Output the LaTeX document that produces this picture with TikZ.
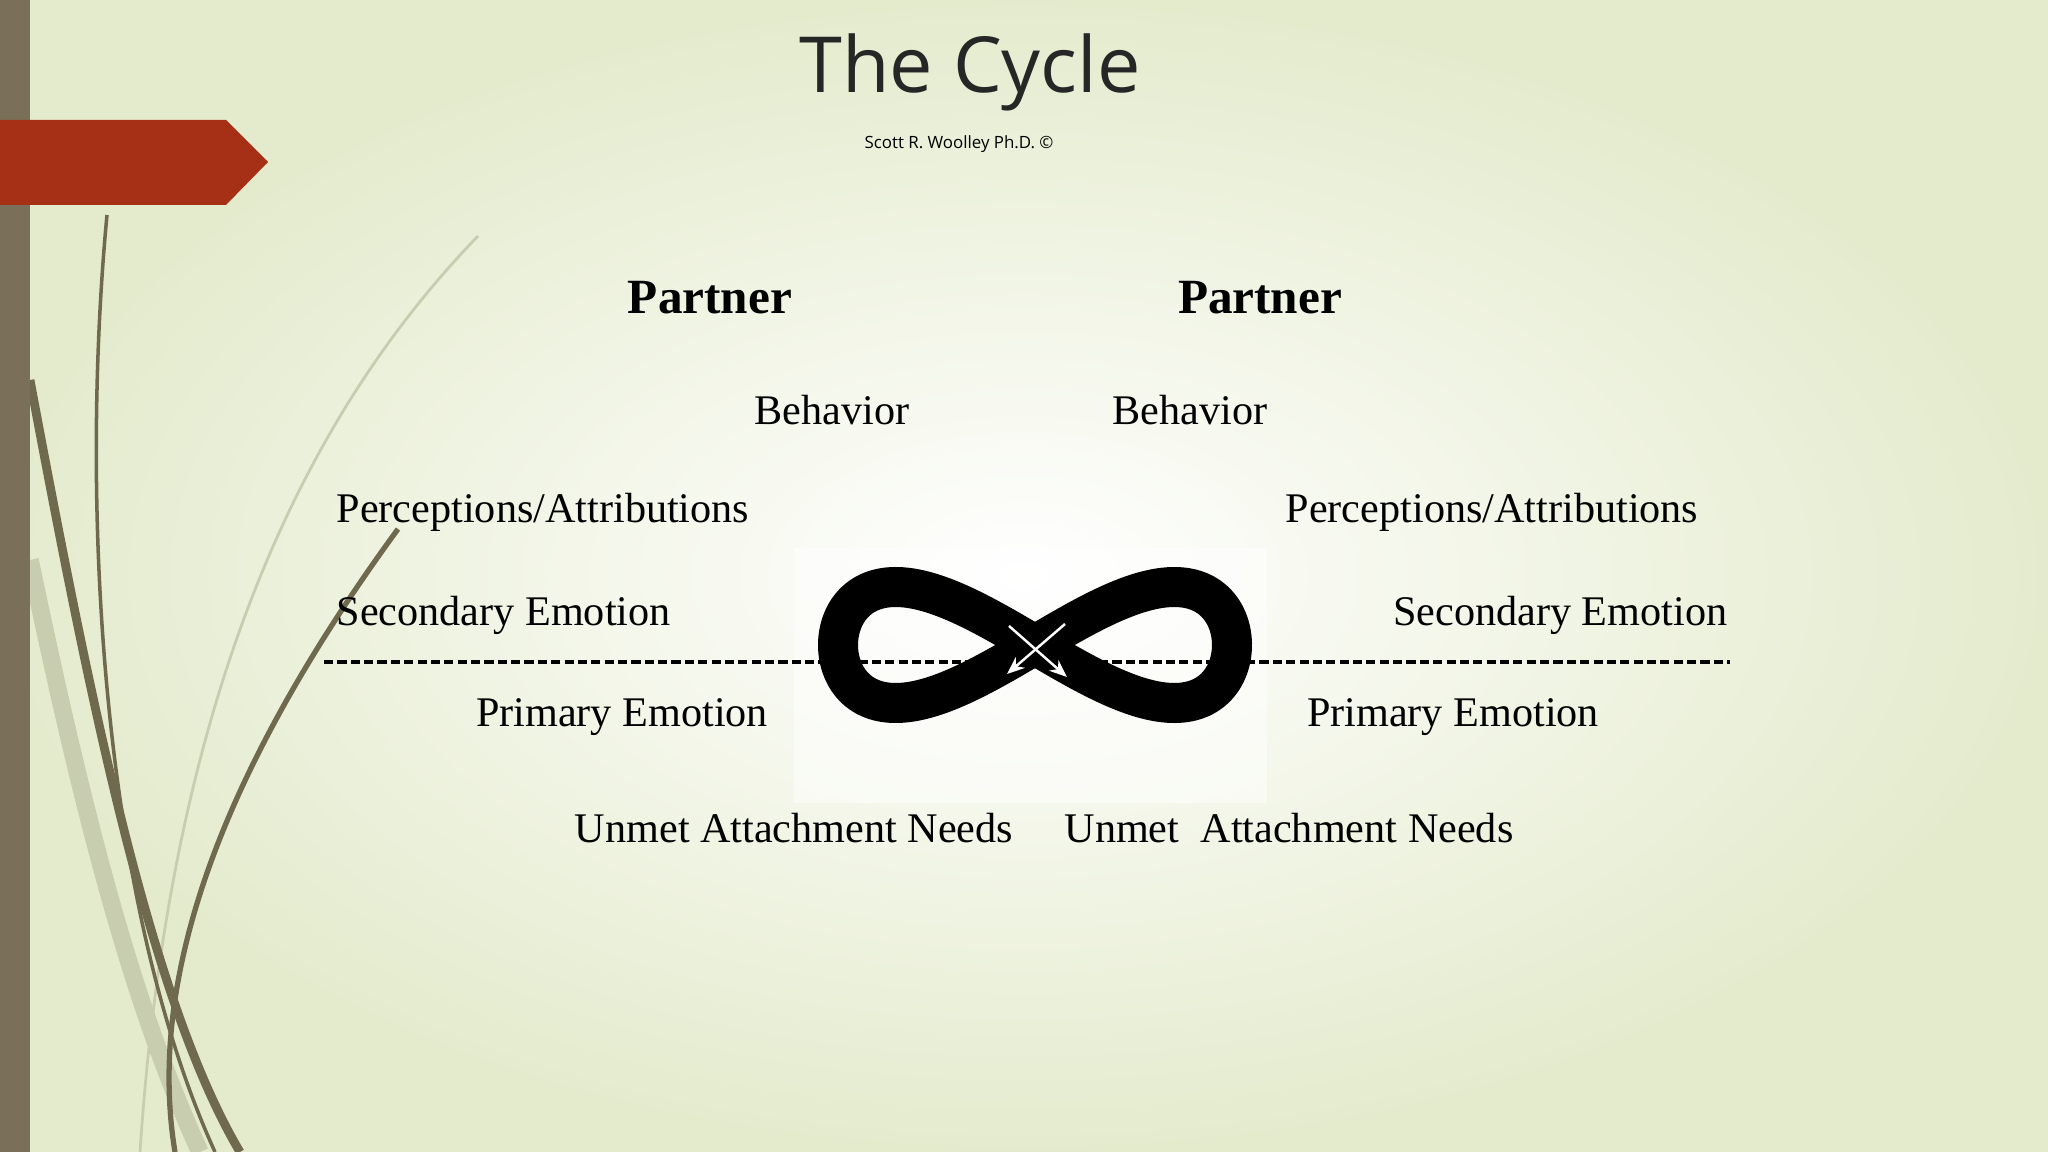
\documentclass[tikz,border=0pt]{standalone}
\usepackage{fontspec}
\setmainfont{Liberation Serif}
\newfontfamily\titlefont{Open Sans}
\usetikzlibrary{arrows.meta}
\definecolor{bgout}{HTML}{E4EBCD}
\definecolor{barc}{HTML}{7A7059}
\definecolor{redc}{HTML}{A63015}
\definecolor{curvc}{HTML}{6F6A4E}
\definecolor{curvl}{HTML}{C9CDB0}
\begin{document}
\begin{tikzpicture}[x=0.01cm,y=-0.01cm,
  lbl/.style={font=\fontsize{12}{14}\selectfont,inner sep=0pt},
  ptn/.style={font=\fontsize{14}{16}\selectfont\bfseries,inner sep=0pt}]
\useasboundingbox (0,0) rectangle (2048,1152);
\shade[inner color=white,outer color=bgout] (0,0) rectangle (2048,1152);
\fill[white,opacity=0.5] (794,548) rectangle (1267,803);
% decorative curves
\draw[curvl,line width=5pt] (30,560) .. controls (80,800) and (130,1000) .. (200,1152);
\draw[curvl,line width=0.8pt] (478,236) .. controls (300,420) and (170,700) .. (140,1152);
\draw[curvc,line width=1pt] (107,215) .. controls (80,500) and (100,900) .. (215,1152);
\draw[curvc,line width=2.5pt] (30,380) .. controls (90,700) and (150,1000) .. (240,1152);
\draw[curvc,line width=1.5pt] (398,529) .. controls (200,800) and (150,1000) .. (175,1152);
\fill[barc] (0,0) rectangle (30,1152);
\fill[redc] (0,120) -- (226,120) -- (268,162) -- (226,205) -- (0,205) -- cycle;
% titles
\node[font=\titlefont\fontsize{22}{26}\selectfont,text=black!85] (title) at (970,72) {The Cycle};
\node[font=\titlefont\fontsize{4.8}{6}\selectfont] (sub) at (959,144) {Scott R. Woolley Ph.D. ©};
\node[ptn] (p1) at (710,298) {Partner};
\node[ptn] (p2) at (1260,298) {Partner};
\node[lbl] (b1) at (832,410) {Behavior};
\node[lbl] (b2) at (1190,410) {Behavior};
\node[lbl,anchor=west] (pa1) at (336,512) {Perceptions/Attributions};
\node[lbl,anchor=east] (pa2) at (1699,512) {Perceptions/Attributions};
\node[lbl,anchor=west] (s1) at (336,615) {Secondary Emotion};
\node[lbl,anchor=east] (s2) at (1728,615) {Secondary Emotion};
\node[lbl] (pr1) at (622,717) {Primary Emotion};
\node[lbl] (pr2) at (1453,717) {Primary Emotion};
\node[lbl] (u1) at (794,828) {Unmet Attachment Needs};
\node[lbl] (u2) at (1289,828) {Unmet\ \ Attachment Needs};
% dashed line
\coordinate (dl) at (324,662); \coordinate (dr) at (1730,662);
\draw[line width=0.9pt,dash pattern=on 2.6pt off 1.2pt] (dl) -- (dr);
% infinity
\draw[line width=0.4cm,black,domain=0:360,samples=120,smooth] plot ({1035+197*sin(\x)},{645+58*sin(2*\x)}) -- cycle;
\draw[white,line width=0.7pt,-{Stealth[length=5pt,width=4pt]}] (1009,626) -- (1067,677);
\draw[white,line width=0.7pt,-{Stealth[length=5pt,width=4pt]}] (1065,624) -- (1007,674);
\end{tikzpicture}
\end{document}
